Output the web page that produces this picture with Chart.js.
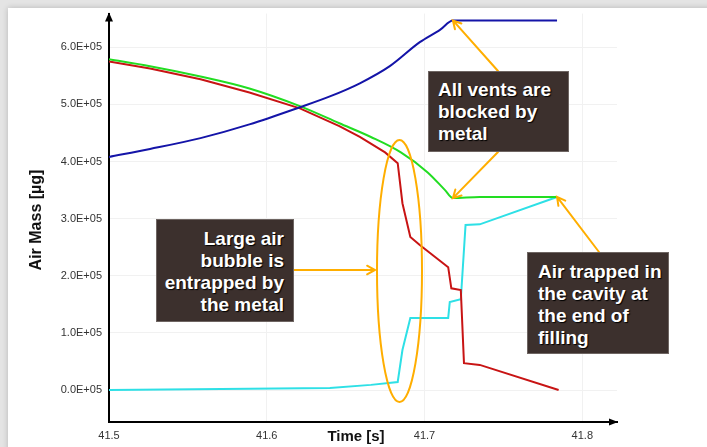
<!DOCTYPE html>
<html>
<head>
<meta charset="utf-8">
<script src="https://cdn.jsdelivr.net/npm/chart.js@4.4.0/dist/chart.umd.min.js"></script>
<style>
    html, body { margin: 0; padding: 0; background: #e4e4e4; }
    .wrap { position: relative; width: 707px; height: 447px; overflow: hidden; }
    .card { position: absolute; left: 8px; top: 8px; right: -10px; bottom: -10px; background: #fff; box-shadow: 0 0 6px rgba(0, 0, 0, 0.2); }
    canvas { position: absolute; left: 0; top: 0; }
    .note {
        position: absolute; box-sizing: border-box;
        background: #3c302d; border: 1px solid #6e6562;
        color: #fff; font: bold 19px 'Liberation Sans', Arial, sans-serif; line-height: 22px;
        text-shadow: 1px 1px 1px #000;
    }
</style>
</head>
<body>
<div class="wrap">
    <div class="card"></div>
    <canvas id="chart" width="707" height="447"></canvas>
    <div class="note" style="left:428px; top:71px; width:141px; height:81px; padding:7px 0 0 9px;">All vents are<br>blocked by<br>metal</div>
    <div class="note" style="left:156px; top:219px; width:138px; height:103px; padding:8px 9px 0 0; text-align:right;">Large air<br>bubble is<br>entrapped by<br>the metal</div>
    <div class="note" style="left:527px; top:252px; width:142px; height:102px; padding:8px 0 0 10px;">Air trapped in<br>the cavity at<br>the end of<br>filling</div>
</div>
<script>
// time axis [s]
const xTicks = [41.5, 41.6, 41.7, 41.8]
const xTickLabels = ['41.5', '41.6', '41.7', '41.8']
const yTicks = [0, 100000, 200000, 300000, 400000, 500000, 600000]
const yTickLabels = ['0.0E+05', '1.0E+05', '2.0E+05', '3.0E+05', '4.0E+05', '5.0E+05', '6.0E+05']

// blue - air leaving through vents (cumulative)
const blueTime = [41.500, 41.526, 41.558, 41.589, 41.621, 41.640, 41.659, 41.678, 41.697, 41.710, 41.718, 41.784]
const blueMass = [408000, 422000, 441000, 465000, 495000, 514000, 537000, 567000, 609000, 631000, 647000, 647000]

// green - air in the cavity
const greenTime = [41.500, 41.526, 41.558, 41.589, 41.621, 41.646, 41.666, 41.685, 41.702, 41.713, 41.718, 41.735, 41.784]
const greenMass = [579000, 567000, 549000, 528000, 497000, 467000, 443000, 416000, 381000, 350000, 336000, 338000, 338000]

// red - free air
const redTime = [41.500, 41.526, 41.558, 41.589, 41.621, 41.646, 41.659, 41.675, 41.683, 41.686, 41.691, 41.697, 41.715, 41.717, 41.723, 41.725, 41.735, 41.785]
const redMass = [575000, 563000, 544000, 521000, 493000, 462000, 443000, 416000, 397000, 327000, 268000, 254000, 215000, 178000, 175000, 47000, 44000, 0]

// cyan - entrapped air
const cyanTime = [41.500, 41.589, 41.640, 41.666, 41.683, 41.686, 41.691, 41.715, 41.716, 41.723, 41.726, 41.735, 41.784]
const cyanMass = [0, 2000, 3500, 9000, 14000, 70000, 126000, 126000, 154000, 159000, 289000, 290000, 338000]

const toPoints = (xs, ys) => xs.map((x, i) => ({ x: x, y: ys[i] }))

function arrow(ctx, x1, y1, x2, y2) {
    const a = Math.atan2(y2 - y1, x2 - x1)
    const h = 9
    ctx.beginPath()
    ctx.moveTo(x1, y1)
    ctx.lineTo(x2, y2)
    ctx.moveTo(x2 - h * Math.cos(a - 0.5), y2 - h * Math.sin(a - 0.5))
    ctx.lineTo(x2, y2)
    ctx.lineTo(x2 - h * Math.cos(a + 0.5), y2 - h * Math.sin(a + 0.5))
    ctx.stroke()
}

const decorations = {
    id: 'decorations',
    afterDatasetsDraw(chart) {
        const ctx = chart.ctx
        const xs = chart.scales.x
        const ys = chart.scales.y
        ctx.save()
        ctx.strokeStyle = '#ffae00'
        ctx.lineWidth = 2
        ctx.lineCap = 'round'
        // ellipse round the sudden drop
        ctx.beginPath()
        ctx.ellipse(399.5, 271, 22.5, 131, 0, 0, Math.PI * 2)
        ctx.stroke()
        // arrows
        arrow(ctx, 498, 71, xs.getPixelForValue(blueTime[10]), ys.getPixelForValue(blueMass[10]))
        arrow(ctx, 498, 152, xs.getPixelForValue(greenTime[10]), ys.getPixelForValue(greenMass[10]))
        arrow(ctx, 294, 270, 375, 270)
        const last = cyanTime.length - 1
        arrow(ctx, 599, 252, xs.getPixelForValue(cyanTime[last]), ys.getPixelForValue(cyanMass[last]))
        ctx.restore()
    },
    afterDraw(chart) {
        const ctx = chart.ctx
        const area = chart.chartArea
        ctx.save()
        ctx.fillStyle = '#000'
        // axis arrow heads
        ctx.beginPath()
        ctx.moveTo(area.left, area.top - 1)
        ctx.lineTo(area.left - 4, area.top + 8)
        ctx.lineTo(area.left + 4, area.top + 8)
        ctx.fill()
        ctx.beginPath()
        ctx.moveTo(area.right + 1, area.bottom)
        ctx.lineTo(area.right - 8, area.bottom - 3.5)
        ctx.lineTo(area.right - 8, area.bottom + 3.5)
        ctx.fill()
        // axis titles
        ctx.fillStyle = '#111'
        ctx.textAlign = 'center'
        ctx.textBaseline = 'middle'
        ctx.font = "bold 15px 'Liberation Sans', Arial, sans-serif"
        ctx.fillText('Time [s]', 356, 437)
        ctx.translate(37, 220)
        ctx.rotate(-Math.PI / 2)
        ctx.font = "bold 16px 'Liberation Sans', Arial, sans-serif"
        ctx.fillText('Air Mass [µg]', 0, 0)
        ctx.restore()
    }
}

const line = (data, color, smooth) => ({
    data: data,
    borderColor: color,
    borderWidth: 2,
    pointRadius: 0,
    fill: false,
    cubicInterpolationMode: smooth ? 'monotone' : 'default',
    tension: 0
})

const tickFont = { size: 11, family: "'Liberation Sans', Arial, sans-serif" }

new Chart(document.getElementById('chart'), {
    type: 'line',
    data: {
        datasets: [
            line(toPoints(blueTime, blueMass), '#1414a8', true),
            line(toPoints(greenTime, greenMass), '#22dd22', true),
            line(toPoints(redTime, redMass), '#c81414', false),
            line(toPoints(cyanTime, cyanMass), '#2ee0e6', false)
        ]
    },
    options: {
        responsive: false,
        animation: false,
        layout: { padding: { top: 13, right: 90, bottom: 0, left: 0 } },
        plugins: {
            legend: { display: false },
            tooltip: { enabled: false }
        },
        scales: {
            x: {
                type: 'linear',
                min: 41.5,
                max: 41.822,
                afterBuildTicks: s => { s.ticks = xTicks.map(v => ({ value: v })) },
                afterFit: s => { s.height = 25 },
                grid: { color: '#f1f1f1', drawTicks: false },
                border: { color: '#000', width: 2 },
                ticks: {
                    padding: 7, color: '#333', font: tickFont,
                    maxRotation: 0, autoSkip: false,
                    callback: (v, i) => xTickLabels[i]
                }
            },
            y: {
                min: -56000,
                max: 659000,
                afterBuildTicks: s => { s.ticks = yTicks.map(v => ({ value: v })) },
                afterFit: s => { s.width = 109 },
                grid: { color: '#f1f1f1', drawTicks: false },
                border: { color: '#000', width: 2 },
                ticks: {
                    padding: 7, color: '#333', font: tickFont,
                    autoSkip: false,
                    callback: (v, i) => yTickLabels[i]
                }
            }
        }
    },
    plugins: [decorations]
})
</script>
</body>
</html>
